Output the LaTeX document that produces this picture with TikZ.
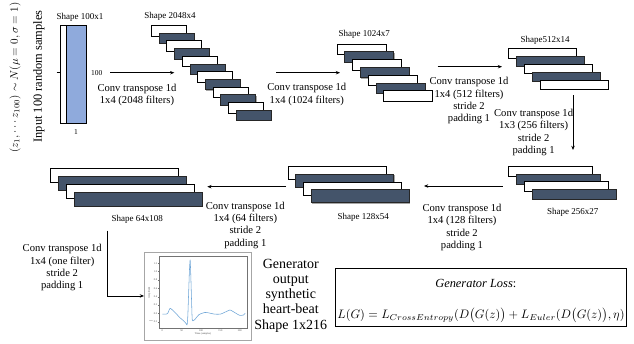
\documentclass[tikz,border=0pt]{standalone}
\usepackage{fontspec}
\setmainfont{Liberation Serif}
\usepackage{amsmath}
\usetikzlibrary{arrows.meta,shadows}

\definecolor{layerdark}{RGB}{68,84,106}
\definecolor{inputblue}{RGB}{143,170,220}
\definecolor{tracecol}{RGB}{110,165,215}

\tikzset{
  fmap/.style={draw=black, line width=0.7pt, fill=white, inner sep=0pt, anchor=north west},
  fmapdark/.style={draw=black!85, line width=0.7pt, fill=layerdark, inner sep=0pt, anchor=north west,
    drop shadow={shadow xshift=0.9pt, shadow yshift=-0.9pt, opacity=0.35, fill=black}},
  flow/.style={line width=0.8pt, -{Stealth[length=4.2pt,width=3.4pt]}},
  convlabel/.style={align=center, font=\fontsize{10.6}{12.4}\selectfont, inner sep=0pt},
  shapelabel/.style={font=\fontsize{9}{10}\selectfont, inner sep=0pt},
  ticklabel/.style={font=\fontsize{2.6}{3}\selectfont, inner sep=0.6pt, text=black!70},
}

% a stack of feature maps: name, x, y (top-left), width, height, count, offset
\newcommand\fmapstack[7]{%
  \foreach \i in {1,...,#6} {
    \pgfmathsetmacro\xx{#2+(\i-1)*#7}
    \pgfmathsetmacro\yy{#3+(\i-1)*#7}
    \ifodd\i
      \node[fmap, minimum width=#4pt, minimum height=#5pt] (#1-\i) at (\xx,\yy) {};
    \else
      \node[fmapdark, minimum width=#4pt, minimum height=#5pt] (#1-\i) at (\xx,\yy) {};
    \fi
  }%
}

\begin{document}
\begin{tikzpicture}[x=1pt, y=-1pt]
\useasboundingbox (0,0) rectangle (634,343);
\fill[white] (0,0) rectangle (634,343);

% latent input
\node[rotate=90, inner sep=0pt] (zdist) at (15,77.5)
  {\resizebox{150pt}{!}{$(z_1,\cdots z_{100}) \sim N(\mu = 0,\sigma = 1)$}};
\node[rotate=90, inner sep=0pt, font=\fontsize{12.4}{14}\selectfont] (zinput) at (39,76.5)
  {Input 100 random samples};

\node[fmap, minimum width=20pt, minimum height=98.3pt] (inback) at (60,25) {};
\node[draw=black, line width=0.7pt, fill=inputblue, inner sep=0pt, anchor=north west,
      minimum width=20pt, minimum height=98.3pt] (infront) at (66,25) {};
\coordinate (intick) at (56.5,72.7);
\draw[line width=0.7pt] (intick) -- (intick -| inback.west);
\node[shapelabel] (inshape) at (80,17.3) {Shape 100x1};
\node[font=\fontsize{7.5}{8}\selectfont, inner sep=0pt] (inlen) at (96.7,72.7) {100};
\node[font=\fontsize{7.5}{8}\selectfont, inner sep=0pt] (inwid) at (76,132.3) {1};

% feature map stacks
\fmapstack{sa}{151}{25}{35}{10.5}{12}{7.7}
\fmapstack{sb}{336.5}{43.5}{49}{10.5}{7}{7.8}
\fmapstack{sc}{508.3}{48.3}{68}{9.5}{5}{7.8}
\fmapstack{sd}{508.3}{165.7}{84}{10}{4}{7.8}
\fmapstack{se}{287.6}{166}{98}{13}{4}{7.8}
\fmapstack{sf}{50}{168}{128}{13.5}{4}{8}

\node[shapelabel] (sashape) at (170,16.7) {Shape 2048x4};
\node[shapelabel] (sbshape) at (364.2,34) {Shape 1024x7};
\node[shapelabel] (scshape) at (545,40) {Shape512x14};
\node[shapelabel] (sdshape) at (572.7,212.3) {Shape 256x27};
\node[shapelabel] (seshape) at (363.3,217.7) {Shape 128x54};
\node[shapelabel] (sfshape) at (137.2,219.3) {Shape 64x108};

% connectors between layers
\coordinate (a1s) at (110,72.7);   \coordinate (a1e) at (174.3,72.7);
\coordinate (a2s) at (276,72.7);   \coordinate (a2e) at (340,72.7);
\coordinate (a3s) at (437.7,66.7); \coordinate (a3e) at (502,66.7);
\coordinate (a4s) at (573,95);     \coordinate (a4e) at (573,150);
\coordinate (a5s) at (502.7,186);  \coordinate (a5e) at (424,186);
\coordinate (a6s) at (286,186.7);  \coordinate (a6e) at (207.3,186.7);
\coordinate (a7s) at (107.3,230.7);

\draw[flow] (a1s) -- (a1e);
\draw[flow] (a2s) -- (a2e);
\draw[flow] (a3s) -- (a3e);
\draw[flow] (a4s) -- (a4e);
\draw[flow] (a5s) -- (a5e);
\draw[flow] (a6s) -- (a6e);

\node[convlabel] (l1) at (137,94.9) {Conv transpose 1d\\1x4 (2048 filters)};
\node[convlabel] (l2) at (306.8,94.5) {Conv transpose 1d\\1x4 (1024 filters)};
\node[convlabel] (l3) at (469,100.8) {Conv transpose 1d\\1x4 (512 filters)\\stride 2\\padding 1};
\node[convlabel] (l4) at (533.6,132.6) {Conv transpose 1d\\1x3 (256 filters)\\stride 2\\padding 1};
\node[convlabel] (l5) at (462,227.3) {Conv transpose 1d\\1x4 (128 filters)\\stride 2\\padding 1};
\node[convlabel] (l6) at (245.3,225.2) {Conv transpose 1d\\1x4 (64 filters)\\stride 2\\padding 1};
\node[convlabel] (l7) at (62.2,267.7) {Conv transpose 1d\\1x4 (one filter)\\stride 2\\padding 1};

% generated heartbeat plot
\node[draw=black!35, line width=0.4pt, fill=white, inner sep=0pt, anchor=north west,
      minimum width=107pt, minimum height=87.5pt,
      drop shadow={shadow xshift=1.2pt, shadow yshift=-1.2pt, opacity=0.3, fill=black}] (plotframe) at (144,252) {};
\draw[flow] (a7s) |- (plotframe.west);

\begin{scope}[shift={(162.3,313.3)}, x=0.387pt, y=41.7pt]
  \draw[black!55, line width=0.3pt] (-8.5,-0.353) rectangle (218.9,1.374);
  \foreach \s in {0,50,100,150,200} {
    \draw[black!55, line width=0.25pt] (\s,-0.353) -- (\s,-0.385);
    \node[ticklabel, anchor=north] at (\s,-0.385) {\s};
  }
  \foreach \v/\t in {-0.2/$-$0.2,0/0.0,0.2/0.2,0.4/0.4,0.6/0.6,0.8/0.8,1.0/1.0,1.2/1.2} {
    \draw[black!55, line width=0.25pt] (-8.5,\v) -- (-11.5,\v);
    \node[ticklabel, anchor=east] at (-11.5,\v) {\t};
  }
  \node[ticklabel, anchor=north] at (105,-0.45) {Time (samples)};
  \node[ticklabel, rotate=90] at (-34,0.5) {Amplitude};
  \draw[tracecol, line width=0.55pt, line join=round]
    plot[smooth, tension=0.35] coordinates {
      (0,-0.02) (10,-0.02) (14,0.0) (20,0.12) (26,0.08) (35,0.0) (45,-0.1)
      (55,-0.18) (62,-0.25) (64,-0.28) (66,-0.05) (70,1.0) (72,1.28) (74,0.8)
      (77,-0.1) (79,-0.18) (84,-0.15) (95,-0.03) (110,0.02) (120,0.01)
      (135,-0.02) (150,-0.02) (165,0.04) (175,0.08) (185,0.03) (200,-0.05)
      (210,-0.04) (214,0.0)};
\end{scope}

\node[align=center, inner sep=0pt, font=\fontsize{14}{15.2}\selectfont] (genout) at (290.8,295.5)
  {Generator\\output\\synthetic\\heart-beat\\Shape 1x216};

% loss box
\node[draw=black, line width=0.8pt, inner sep=0pt, anchor=north west,
      minimum width=290.7pt, minimum height=57.4pt] (lossbox) at (335,268.3) {};
\node[inner sep=0pt, font=\fontsize{12.4}{14}\selectfont] (losstitle) at (475.8,283.3)
  {\textit{Generator Loss}:};
\node[inner sep=0pt] (lossformula) at (481,315.7)
  {\resizebox{287pt}{!}{$L(G) = L_{CrossEntropy}(D\big(G(z)\big) + L_{Euler}(D\big(G(z)\big),\eta)$}};
\end{tikzpicture}
\end{document}
